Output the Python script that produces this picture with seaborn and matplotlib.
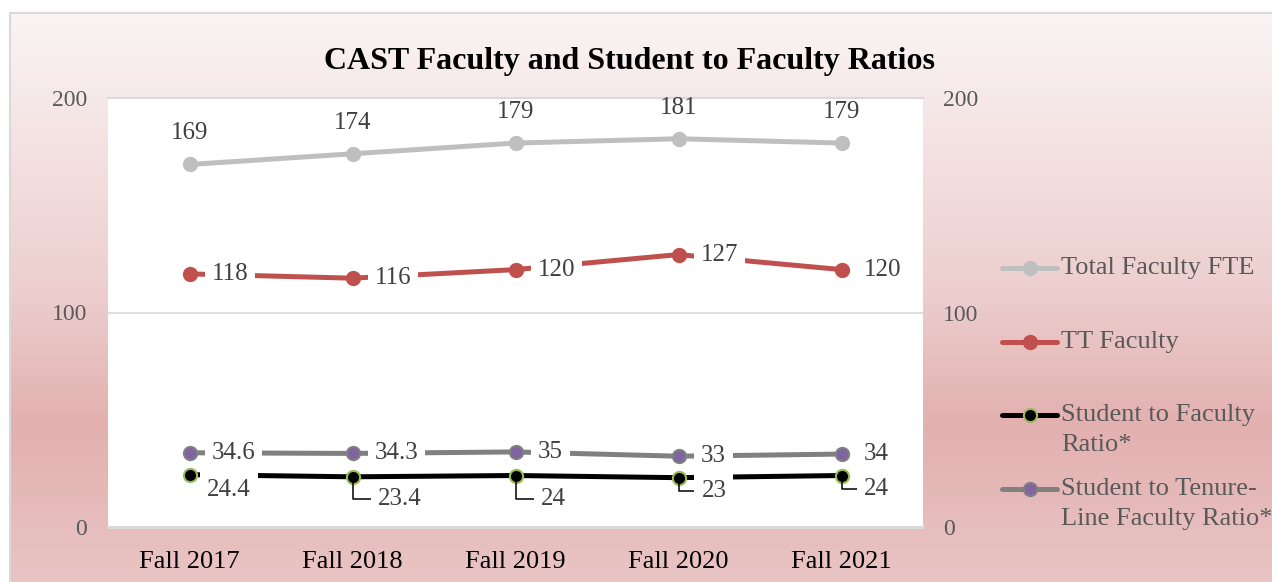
import numpy as np
import pandas as pd
import matplotlib
matplotlib.use("Agg")
import matplotlib.pyplot as plt
from matplotlib.lines import Line2D
import seaborn as sns

# ---------------- data ----------------
terms = ["Fall 2017", "Fall 2018", "Fall 2019", "Fall 2020", "Fall 2021"]
total_fte = [169, 174, 179, 181, 179]
tt_faculty = [118, 116, 120, 127, 120]
student_faculty = [24.4, 23.4, 24, 23, 24]
student_tenure = [34.6, 34.3, 35, 33, 34]
series_names = ["Total Faculty FTE", "TT Faculty", "Student to Faculty\nRatio*",
                "Student to Tenure-\nLine Faculty Ratio*"]
y_ticks = [0, 100, 200]
title = "CAST Faculty and Student to Faculty Ratios"

# ---------------- style ----------------
sns.set_theme(style="white")
plt.rcParams["font.family"] = ["Liberation Serif", "DejaVu Serif"]

W, H, DPI = 1272, 582, 100
fig = plt.figure(figsize=(W / DPI, H / DPI), dpi=DPI)

# background gradient
bg = fig.add_axes([0, 0, 1, 1], zorder=-10)
bg.set_axis_off()
stops = np.array([0.0, 0.5, 0.73, 1.0])
cols = np.array([[251, 246, 246], [237, 206, 206], [227, 176, 176], [233, 196, 196]]) / 255
yy = np.linspace(0, 1, 300)
grad = np.stack([np.interp(yy, stops, cols[:, k]) for k in range(3)], axis=-1)
img = np.repeat(grad[:, None, :], 10, axis=1)
bg.imshow(img, aspect="auto", extent=[0, 1, 0, 1], origin="upper")
bg.set_xlim(0, 1)
bg.set_ylim(0, 1)
x0, y0 = 10 / W, 1 - 13 / H
bg.fill_between([0, 1], [y0, y0], [1, 1], color="white", lw=0)
bg.fill_between([0, x0], [0, 0], [1, 1], color="white", lw=0)
bg.plot([x0, x0, 1.01], [-0.01, y0, y0], color="#d9d9d9", lw=1.5)

fig.text(630 / W, 1 - 61 / H, title, ha="center", va="center",
         fontsize=23, fontweight="bold", color="black")

left, right, top, bottom = 108, 923, 98, 527
ax = fig.add_axes([left / W, 1 - bottom / H, (right - left) / W, (bottom - top) / H])
ax.set_facecolor("white")

df = pd.DataFrame({"term": terms, "total": total_fte, "tt": tt_faculty,
                   "sf": student_faculty, "st": student_tenure})

styles = [
    ("total", "#bfbfbf", "#bfbfbf", "#bfbfbf", 3),
    ("tt", "#c0504d", "#c0504d", "#c0504d", 3),
    ("sf", "#000000", "#000000", "#9bbb59", 2),
    ("st", "#808080", "#8064a2", "#808080", 2),
]
handle_kw = []
for (col, lc, mfc, mec, z) in styles:
    kw = dict(color=lc, lw=3.6, marker="o", markersize=9.5, markerfacecolor=mfc,
              markeredgecolor=mec, markeredgewidth=1.5)
    sns.lineplot(data=df, x="term", y=col, ax=ax, zorder=z, legend=False,
                 sort=False, **kw)
    handle_kw.append(kw)

ax.set_xlim(-0.5, len(terms) - 0.5)
ax.set_ylim(0, 200)
ax.set_yticks(y_ticks)
ax.set_xlabel("")
ax.set_ylabel("")
for s in ["left", "right"]:
    ax.spines[s].set_visible(False)
ax.spines["top"].set_color("#d9d9d9")
ax.spines["top"].set_linewidth(1.5)
ax.spines["bottom"].set_color("#d9d9d9")
ax.spines["bottom"].set_linewidth(2.2)
ax.axhline(100, color="#d9d9d9", lw=1.2, zorder=0)
ax.tick_params(axis="x", length=0, labelsize=19, labelcolor="black", pad=17)
ax.tick_params(axis="y", length=0, labelsize=17, labelcolor="#595959", pad=15)

ax2 = ax.twinx()
ax2.set_ylim(0, 200)
ax2.set_yticks(y_ticks)
for s in ax2.spines.values():
    s.set_visible(False)
ax2.tick_params(axis="y", length=0, labelsize=17, labelcolor="#595959", pad=14.5)
ax2.grid(False)
ax.grid(False)

# ---------------- data labels ----------------
txt_kw = dict(textcoords="offset points", fontsize=18, color="#404040", zorder=6)
lbl_kw = dict(txt_kw, bbox=dict(boxstyle="square,pad=0.28", fc="white", ec="none"))


def fmt(v):
    return f"{v:g}"


for i, v in enumerate(total_fte):
    ax.annotate(fmt(v), (i, v), xytext=(0, 22.5), ha="center", va="center", **txt_kw)
for i, v in enumerate(tt_faculty):
    ax.annotate(fmt(v), (i, v), xytext=(16, 0), ha="left", va="center", **lbl_kw)
for i, v in enumerate(student_tenure):
    ax.annotate(fmt(v), (i, v), xytext=(16, 0), ha="left", va="center", **lbl_kw)

sf_offsets = [(12.5, -11), (18, -16), (18, -17), (16.5, -9.5), (16, -9.5)]
for i, (v, off) in enumerate(zip(student_faculty, sf_offsets)):
    arrow = None
    if i > 0:
        arrow = dict(arrowstyle="-", color="black", lw=1.1, shrinkA=0, shrinkB=4.5,
                     relpos=(0, 0.5),
                     connectionstyle="angle,angleA=0,angleB=90,rad=0")
    ax.annotate(fmt(v), (i, v), xytext=off, ha="left", va="center",
                arrowprops=arrow, **lbl_kw)

# ---------------- legend (Excel-like layout) ----------------
leg_first_y = [268, 342, 415, 489]   # pixel rows of each entry's first line
leg_line_gap = 30
for kw, name, yp in zip(handle_kw, series_names, leg_first_y):
    yf = 1 - yp / H
    fig.add_artist(Line2D([1002 / W, 1057 / W], [yf, yf], transform=fig.transFigure,
                          color=kw["color"], lw=kw["lw"], solid_capstyle="round"))
    fig.add_artist(Line2D([1029.5 / W], [yf], transform=fig.transFigure, ls="none",
                          marker="o", markersize=kw["markersize"],
                          markerfacecolor=kw["markerfacecolor"],
                          markeredgecolor=kw["markeredgecolor"],
                          markeredgewidth=kw["markeredgewidth"]))
    for k, line in enumerate(name.split("\n")):
        fig.text(1061 / W, 1 - (yp + k * leg_line_gap) / H, line, ha="left",
                 va="center", fontsize=19, color="#595959")

fig.savefig("out.png", dpi=DPI)
